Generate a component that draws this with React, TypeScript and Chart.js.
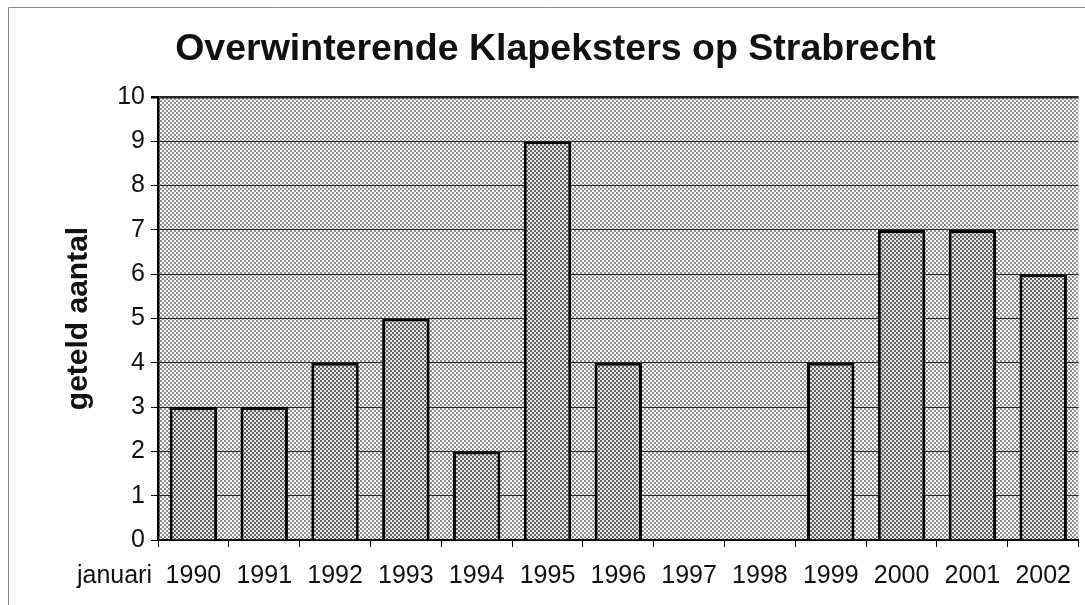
import React, { useEffect, useRef } from 'react';
import { Chart, registerables } from 'chart.js';

Chart.register(...registerables);

const TITLE = 'Overwinterende Klapeksters op Strabrecht';
const Y_TITLE = 'geteld aantal';
const X_PREFIX = 'januari';
const YEARS = ['1990', '1991', '1992', '1993', '1994', '1995', '1996', '1997', '1998', '1999', '2000', '2001', '2002'];
const COUNTS = [3, 3, 4, 5, 2, 9, 4, 0, 0, 4, 7, 7, 6];
const Y_MIN = 0;
const Y_MAX = 10;
const Y_STEP = 1;

const FONT = '"Liberation Sans", Arial, Helvetica, sans-serif';
const TICK_SIZE = 25;
const X_TICK_LEN = 7;
const X_TICK_PAD = 14;

function makePattern(ctx: CanvasRenderingContext2D, base: string, dot: string) {
  const c = document.createElement('canvas');
  c.width = 4;
  c.height = 4;
  const g = c.getContext('2d')!;
  g.fillStyle = base;
  g.fillRect(0, 0, 4, 4);
  g.fillStyle = dot;
  g.fillRect(0, 0, 2, 2);
  g.fillRect(2, 2, 2, 2);
  return ctx.createPattern(c, 'repeat')!;
}

export default function App() {
  const ref = useRef<HTMLCanvasElement>(null);

  useEffect(() => {
    const canvas = ref.current!;
    const ctx = canvas.getContext('2d')!;
    const bgPattern = makePattern(ctx, '#fbfbfb', '#8e8e8e');
    const barPattern = makePattern(ctx, '#e6e6e6', '#626262');

    const decor = {
      id: 'decor',
      beforeDraw(chart: any) {
        const { ctx: c, chartArea: a } = chart;
        c.save();
        c.fillStyle = '#ffffff';
        c.fillRect(0, 0, chart.width, chart.height);
        c.strokeStyle = '#8a8a8a';
        c.lineWidth = 1;
        c.beginPath();
        c.moveTo(8.5, chart.height);
        c.lineTo(8.5, 7.5);
        c.lineTo(chart.width, 7.5);
        c.stroke();
        c.fillStyle = bgPattern;
        c.fillRect(a.left, a.top, a.right - a.left, a.bottom - a.top);
        c.restore();
      },
      afterDraw(chart: any) {
        const c = chart.ctx;
        const xs = chart.scales.x;
        c.save();
        c.font = `${TICK_SIZE}px ${FONT}`;
        c.fillStyle = '#111';
        c.textAlign = 'right';
        c.textBaseline = 'middle';
        const y = xs.top + X_TICK_LEN + X_TICK_PAD + (TICK_SIZE * 1.2) / 2;
        c.fillText(X_PREFIX, 152, y);
        c.restore();
      },
    };

    const chart = new Chart(canvas, {
      type: 'bar',
      data: {
        labels: YEARS,
        datasets: [
          {
            data: COUNTS,
            backgroundColor: barPattern,
            borderColor: '#000',
            borderWidth: 3,
            barPercentage: 0.67,
            categoryPercentage: 1,
          },
        ],
      },
      options: {
        responsive: false,
        animation: false,
        devicePixelRatio: 1,
        layout: { padding: { left: 26, right: 0, top: 0, bottom: 0 } },
        plugins: {
          legend: { display: false },
          tooltip: { enabled: false },
          title: {
            display: true,
            text: TITLE,
            color: '#111',
            font: { family: FONT, size: 37.5, weight: 'bold' },
            padding: { top: 27, bottom: 25 },
          },
        },
        scales: {
          x: {
            offset: true,
            grid: {
              display: true,
              offset: true,
              drawOnChartArea: false,
              drawTicks: true,
              tickLength: X_TICK_LEN,
              color: '#000',
              tickColor: '#000',
            },
            border: { display: true, color: '#000', width: 2 },
            ticks: {
              color: '#111',
              font: { family: FONT, size: TICK_SIZE },
              padding: X_TICK_PAD,
              maxRotation: 0,
              autoSkip: false,
            },
            afterFit(scale: any) {
              scale.height = 65;
            },
          },
          y: {
            min: Y_MIN,
            max: Y_MAX,
            grid: {
              color: '#2a2a2a',
              lineWidth: (c: any) => (c.tick && c.tick.value === Y_MAX ? 2.5 : 1),
              tickLength: 7,
              tickColor: '#000',
            },
            border: { display: true, color: '#000', width: 2.5 },
            ticks: {
              stepSize: Y_STEP,
              color: '#111',
              font: { family: FONT, size: TICK_SIZE },
              padding: 6,
            },
            title: {
              display: true,
              text: Y_TITLE,
              color: '#111',
              font: { family: FONT, size: 30, weight: 'bold' },
              padding: { top: 35, bottom: 0 },
            },
            afterFit(scale: any) {
              scale.width = 132;
            },
          },
        },
      },
      plugins: [decor],
    } as any);

    return () => chart.destroy();
  }, []);

  return (
    <div style={{ position: 'fixed', left: 0, top: 0, width: 1085, height: 605, background: '#fff' }}>
      <canvas ref={ref} width={1085} height={605} style={{ display: 'block', width: 1085, height: 605 }} />
    </div>
  );
}
